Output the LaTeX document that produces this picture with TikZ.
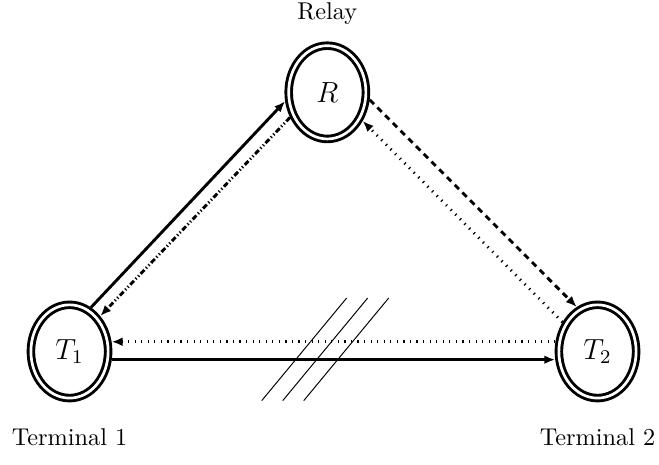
\documentclass[tikz,border=0pt]{standalone}
\usepackage{amsmath}
\usetikzlibrary{shapes.geometric, arrows.meta, positioning}

\tikzset{
    station/.style={draw=black, ellipse, double, line width=1.2pt, double distance=1.1pt,
        minimum width=31.8pt, minimum height=38.4pt, inner sep=0pt, outer sep=1.75pt, font=\large},
    link/.style={line width=1.2pt, -{Latex[length=4.5pt, width=3.6pt]}},
    dotlink/.style={link, dash pattern=on 0.5pt off 2.2pt},
    dashlink/.style={link, dash pattern=on 2.5pt off 2pt},
    dashdotlink/.style={link, dash pattern=on 2.2pt off 1pt on 0.5pt off 1pt on 0.5pt off 1pt}
}

\begin{document}
\begin{tikzpicture}
    \useasboundingbox (-1.006,-1.642) rectangle (8.53,5.086);

    % --- Stations ---
    \node[station] (T1) at (0,0) {$T_1$};
    \node[station] (T2) at (7.64,0) {$T_2$};
    \node[station] (R) at (3.73,3.75) {$R$};

    \node[above=0.12cm of R] (lblR) {Relay};
    \node[below=0.25cm of T1] (lblT1) {Terminal 1};
    \node[below=0.25cm of T2] (lblT2) {Terminal 2};

    % --- Links via the relay ---
    \draw[link] (T1.64) -- (R.192);
    \draw[dashdotlink] (R.214) -- (T1.49);
    \draw[dashlink] (R.350) -- (T2.115);
    \draw[dotlink] (T2.140) -- (R.321);

    % --- Direct links ---
    \draw[dotlink] (T2.167) -- (T1.13);
    \draw[link] (T1.-11.5) -- (T2.191.5);

    % --- Blocked direct path ---
    \foreach \dx in {0, 0.304, 0.608}
        \draw[thin] (2.781+\dx,-0.712) -- (4.011+\dx,0.774);
\end{tikzpicture}
\end{document}
